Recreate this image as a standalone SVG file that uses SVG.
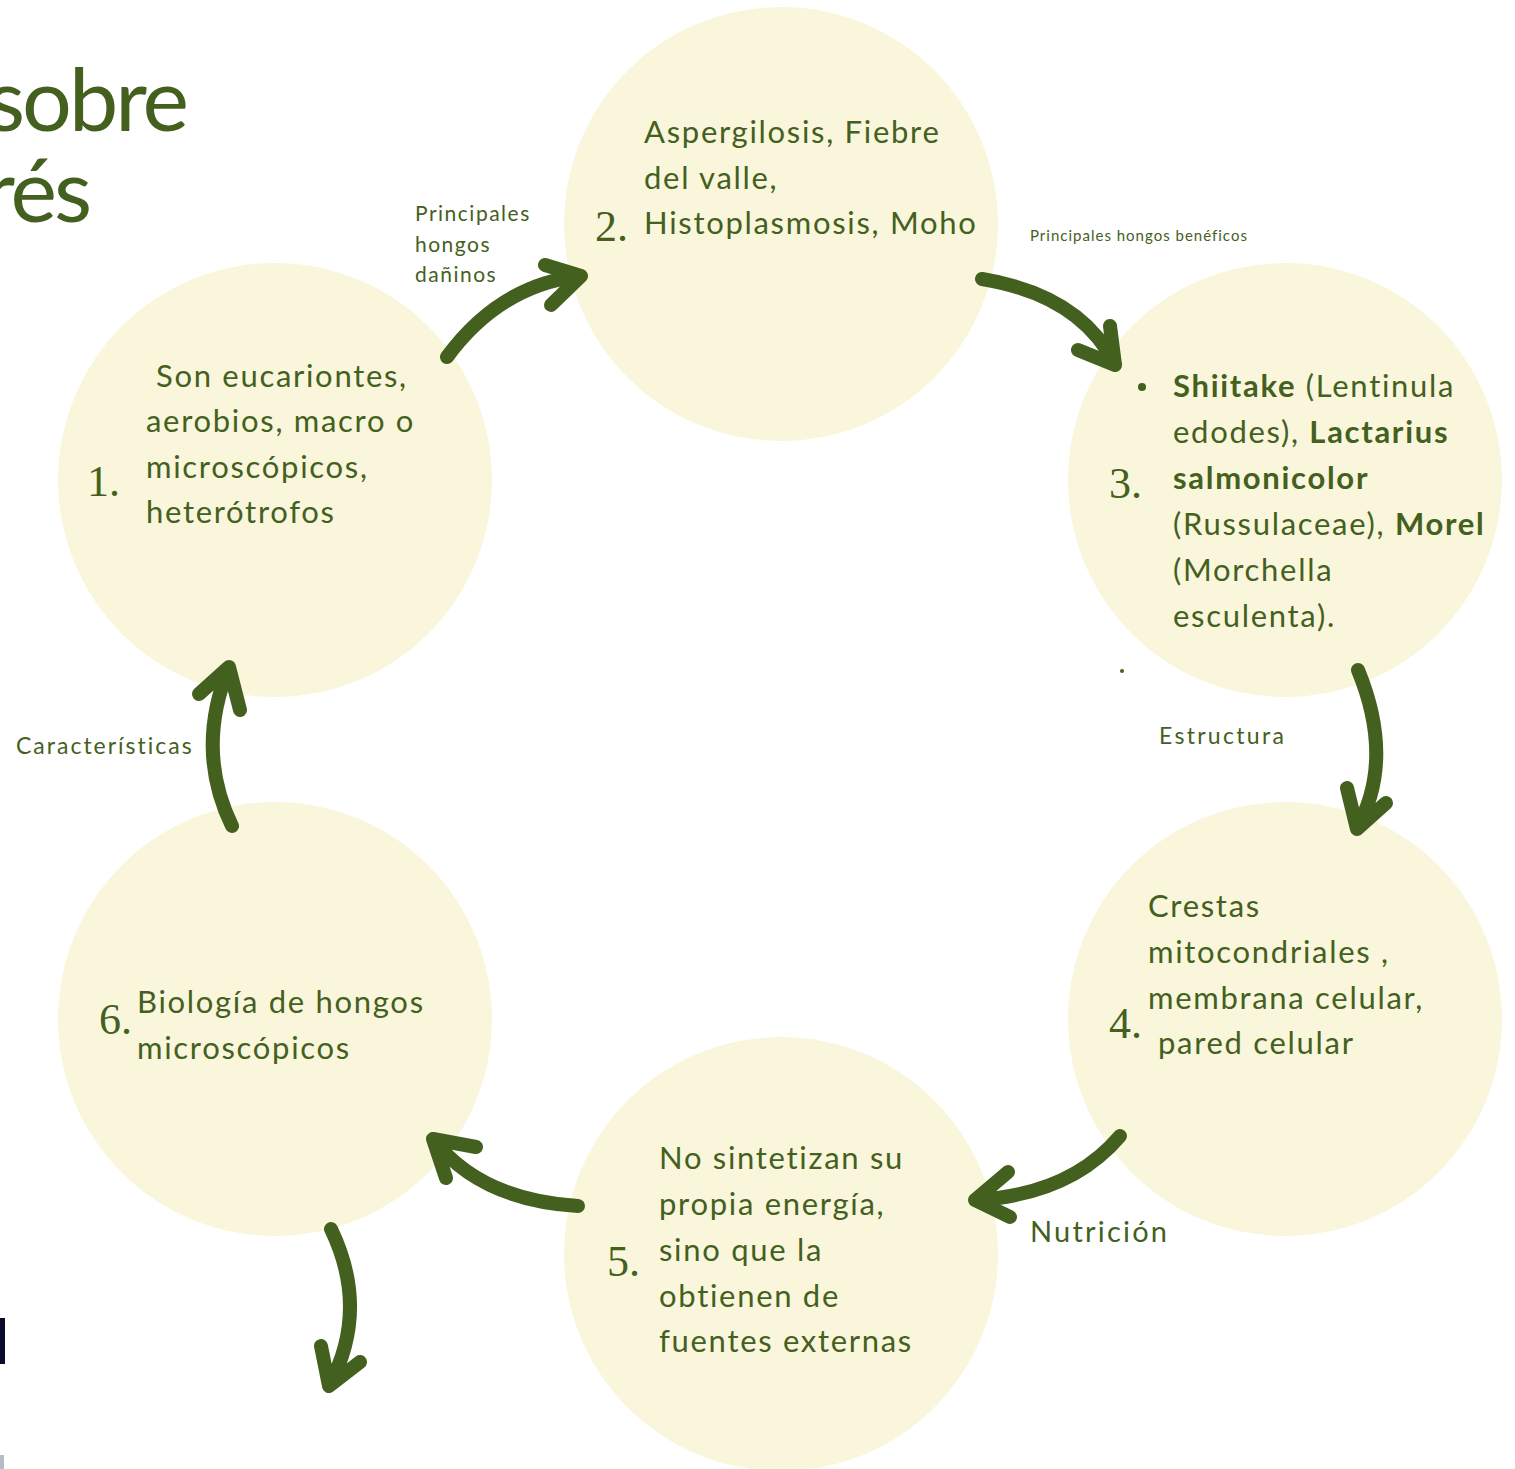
<svg xmlns="http://www.w3.org/2000/svg" width="1515" height="1469" viewBox="0 0 1515 1469">
<style>
.c{fill:#faf6dc}
.t{font-family:Lato,"Open Sans",sans-serif;font-size:31px;letter-spacing:1.7px;fill:#44601e}
.b{font-weight:bold}
.n{font-family:"Liberation Serif",serif;font-size:44px;fill:#44601e}
.l{font-family:Lato,"Open Sans",sans-serif;fill:#44601e}
.title{font-family:Lato,"Open Sans",sans-serif;font-size:88px;letter-spacing:-3px;fill:#44601e}
.a{fill:none;stroke:#44601e;stroke-width:14;stroke-linecap:round;stroke-linejoin:round}
</style>
<rect width="1515" height="1469" fill="#ffffff"/>
<g id="title">
<text class="title" x="186" y="131" text-anchor="end">sobre</text>
<text class="title" x="89" y="222" text-anchor="end">rés</text>
</g>
<rect x="0" y="1318" width="5" height="46" fill="#0b0b2e"/>
<rect x="0" y="1455" width="4" height="14" fill="#b8bcc8"/>
<g id="node1">
<circle class="c" cx="275" cy="480" r="217"/>
<text class="n" x="87" y="496">1.</text>
<text class="t" x="156" y="387">Son eucariontes,</text>
<text class="t" x="146" y="432">aerobios, macro o</text>
<text class="t" x="146" y="478">microscópicos,</text>
<text class="t" x="146" y="523">heterótrofos</text>
</g>
<g id="node2">
<circle class="c" cx="781" cy="224" r="217"/>
<text class="n" x="595" y="241">2.</text>
<text class="t" x="644" y="143">Aspergilosis, Fiebre</text>
<text class="t" x="644" y="189">del valle,</text>
<text class="t" x="644" y="234">Histoplasmosis, Moho</text>
</g>
<g id="node3">
<circle class="c" cx="1285" cy="480" r="217"/>
<text class="n" x="1109" y="498">3.</text>
<circle cx="1142" cy="387" r="4" fill="#44601e"/>
<text class="t" x="1173" y="397"><tspan class="b">Shiitake</tspan> (Lentinula</text>
<text class="t" x="1173" y="443">edodes), <tspan class="b">Lactarius</tspan></text>
<text class="t b" x="1173" y="489">salmonicolor</text>
<text class="t" x="1173" y="535">(Russulaceae), <tspan class="b">Morel</tspan></text>
<text class="t" x="1173" y="581">(Morchella</text>
<text class="t" x="1173" y="627">esculenta).</text>
<circle cx="1122" cy="671" r="2" fill="#44601e"/>
</g>
<g id="node4">
<circle class="c" cx="1285" cy="1019" r="217"/>
<text class="n" x="1109" y="1038">4.</text>
<text class="t" x="1148" y="917">Crestas</text>
<text class="t" x="1148" y="963">mitocondriales ,</text>
<text class="t" x="1148" y="1009">membrana celular,</text>
<text class="t" x="1158" y="1054">pared celular</text>
</g>
<g id="node5">
<circle class="c" cx="781" cy="1254" r="217"/>
<text class="n" x="607" y="1276">5.</text>
<text class="t" x="659" y="1169">No sintetizan su</text>
<text class="t" x="659" y="1215">propia energía,</text>
<text class="t" x="659" y="1261">sino que la</text>
<text class="t" x="659" y="1307">obtienen de</text>
<text class="t" x="659" y="1352">fuentes externas</text>
</g>
<g id="node6">
<circle class="c" cx="275" cy="1019" r="217"/>
<text class="n" x="99" y="1034">6.</text>
<text class="t" x="137" y="1013">Biología de hongos</text>
<text class="t" x="137" y="1059">microscópicos</text>
</g>
<g id="connectors">
<path class="a" d="M447 357 Q500 285 580 276 M545 265 L581 276 L551 305"/>
<path class="a" d="M982 279 Q1080 295 1115 364 M1078 350 L1115 365 L1110 326"/>
<path class="a" d="M1358 670 Q1395 760 1357 828 M1347 788 L1357 829 L1386 803"/>
<path class="a" d="M1120 1136 Q1070 1195 975 1200 M1008 1172 L975 1200 L1010 1217"/>
<path class="a" d="M578 1206 Q480 1200 433 1139 M476 1147 L433 1139 L446 1178"/>
<path class="a" d="M232 826 Q195 750 229 667 M199 694 L229 667 L240 710"/>
<path class="a" d="M331 1229 Q370 1310 329 1386 M321 1346 L329 1386 L360 1362"/>
<g id="labels">
<text class="l" x="415" y="221" font-size="21" letter-spacing="1.5">Principales</text>
<text class="l" x="415" y="252" font-size="21" letter-spacing="1.5">hongos</text>
<text class="l" x="415" y="282" font-size="21" letter-spacing="1.5">dañinos</text>
<text class="l" x="1030" y="241" font-size="15" letter-spacing="1">Principales hongos benéficos</text>
<text class="l" x="1159" y="744" font-size="23" letter-spacing="2.3">Estructura</text>
<text class="l" x="16" y="754" font-size="23" letter-spacing="2">Características</text>
<text class="l" x="1030" y="1242" font-size="29" letter-spacing="2.2">Nutrición</text>
</g>
</g>
</svg>
